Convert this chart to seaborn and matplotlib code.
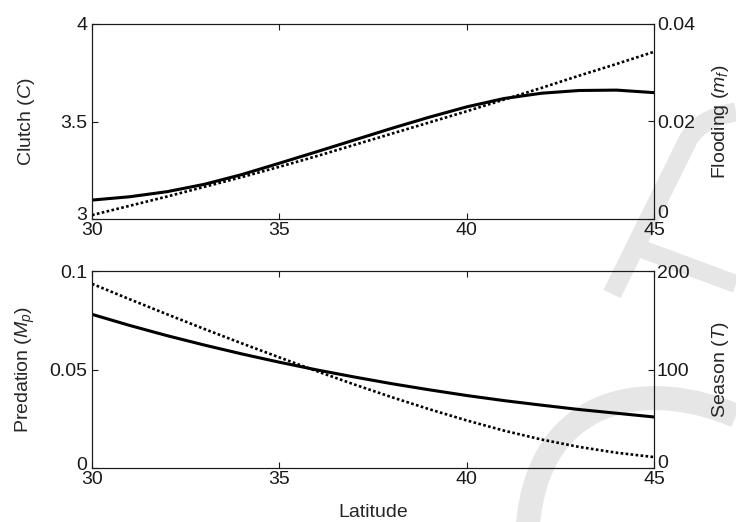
import numpy as np
import pandas as pd
import matplotlib
matplotlib.use("Agg")
import matplotlib.pyplot as plt
from matplotlib.path import Path
from matplotlib.patches import PathPatch
from matplotlib.transforms import ScaledTranslation
import seaborn as sns

# ---- data ----
latitude = [30, 31, 32, 33, 34, 35, 36, 37, 38, 39, 40, 41, 42, 43, 44, 45]
clutch = [3.097, 3.114, 3.140, 3.178, 3.228, 3.286, 3.345, 3.405, 3.465, 3.522,
          3.575, 3.618, 3.645, 3.659, 3.661, 3.648]
flooding = [0.0008, 0.0027, 0.0046, 0.0066, 0.0086, 0.0107, 0.0129, 0.0152,
            0.0175, 0.0198, 0.0221, 0.0245, 0.0269, 0.0294, 0.0318, 0.0343]
predation = [0.0780, 0.0724, 0.0672, 0.0624, 0.0579, 0.0537, 0.0498, 0.0462,
             0.0428, 0.0397, 0.0368, 0.0342, 0.0319, 0.0297, 0.0278, 0.0259]
season = [187, 171.4, 156.1, 141.1, 126.5, 112.3, 98.3, 84.8, 71.9, 59.7,
          48.3, 37.9, 28.9, 21.4, 15.5, 11.1]

x_ticks = [30, 35, 40, 45]
clutch_ticks = [3, 3.5, 4]
clutch_labels = ["3", "3.5", "4"]
flood_ticks = [0, 0.02, 0.04]
flood_labels = ["0", "0.02", "0.04"]
pred_ticks = [0, 0.05, 0.1]
pred_labels = ["0", "0.05", "0.1"]
season_ticks = [0, 100, 200]
season_labels = ["0", "100", "200"]

df = pd.DataFrame({"lat": latitude, "clutch": clutch, "flood": flooding,
                   "pred": predation, "season": season})

sns.set_theme(style="white")
plt.rcParams["font.family"] = ["Liberation Sans", "DejaVu Sans"]
plt.rcParams["mathtext.fontset"] = "custom"
plt.rcParams["mathtext.it"] = "Liberation Sans:italic"
plt.rcParams["mathtext.rm"] = "Liberation Sans"
plt.rcParams["axes.edgecolor"] = "#1a1a1a"
plt.rcParams["axes.linewidth"] = 0.8

W, H = 736, 522
fig = plt.figure(figsize=(W / 100, H / 100), dpi=100)
fig.patch.set_facecolor("white")

# ---- background watermark strokes (figure pixel coords, y from top) ----
def fpx(pts):
    return [(x / W, 1 - y / H) for x, y in pts]

wm = "#e6e6e6"
def add_stroke(pts, lw_px, codes=None):
    verts = fpx(pts)
    if codes is None:
        codes = [Path.MOVETO] + [Path.LINETO] * (len(verts) - 1)
    p = PathPatch(Path(verts, codes), transform=fig.transFigure, fill=False,
                  edgecolor=wm, lw=lw_px * 0.72, capstyle="butt", zorder=-5)
    fig.patches.append(p)

add_stroke([(612, 294), (688, 140), (700, 118), (736, 112)], 19,
           [Path.MOVETO, Path.LINETO, Path.CURVE3, Path.CURVE3])
add_stroke([(628, 244), (736, 284)], 18)
add_stroke([(528, 524), (540, 390), (655, 380), (736, 416)], 24,
           [Path.MOVETO, Path.CURVE4, Path.CURVE4, Path.CURVE4])

# ---- axes ----
left = 92 / W
width = (654 - 92) / W
ax1 = fig.add_axes([left, 1 - 219 / H, width, (219 - 24) / H])
ax3 = fig.add_axes([left, 1 - 468 / H, width, (468 - 271) / H])

FS = 14
solid_kw = dict(color="black", lw=2.2)
dot_kw = dict(color="black", lw=1.9, linestyle=(0, (1.0, 0.9)))

def style(ax, ax2):
    for a in (ax, ax2):
        a.set_facecolor("none")
        a.patch.set_visible(False)
        a.set_xlim(30, 45)
        a.set_xticks(x_ticks)
        a.tick_params(direction="in", length=4, width=0.8, labelsize=FS,
                      colors="#1a1a1a", pad=2)
        a.xaxis.set_ticks_position("both")
        for s in a.spines.values():
            s.set_visible(True)
    ax.tick_params(axis="y", pad=3.5)
    ax.tick_params(axis="x", labelbottom=True, pad=2)
    ax2.tick_params(axis="y", pad=2)

def lift_bottom_label(ax, px):
    lab = ax.get_yticklabels()[0]
    lab.set_transform(lab.get_transform() + ScaledTranslation(0, px / 100, fig.dpi_scale_trans))

# top panel
sns.lineplot(data=df, x="lat", y="clutch", ax=ax1, **solid_kw)
ax2 = ax1.twinx()
sns.lineplot(data=df, x="lat", y="flood", ax=ax2, **dot_kw)
style(ax1, ax2)
ax1.set_ylim(3, 4)
ax1.set_yticks(clutch_ticks, clutch_labels)
ax2.set_ylim(0, 0.04)
ax2.set_yticks(flood_ticks, flood_labels)
ax1.set_xticks(x_ticks, [str(v) for v in x_ticks])
ax1.set_xlabel("")
ax2.set_xlabel("")
ax1.set_ylabel("Clutch ($C$)", fontsize=FS)
ax2.set_ylabel("Flooding ($m_f$)", fontsize=FS)
ax1.yaxis.set_label_coords(-0.097, 0.5)
ax2.yaxis.set_label_coords(1.10, 0.5)

# bottom panel
sns.lineplot(data=df, x="lat", y="pred", ax=ax3, **solid_kw)
ax4 = ax3.twinx()
sns.lineplot(data=df, x="lat", y="season", ax=ax4, **dot_kw)
style(ax3, ax4)
ax3.set_ylim(0, 0.1)
ax3.set_yticks(pred_ticks, pred_labels)
ax4.set_ylim(0, 200)
ax4.set_yticks(season_ticks, season_labels)
ax3.set_xticks(x_ticks, [str(v) for v in x_ticks])
ax4.set_xlabel("")
ax3.set_xlabel("Latitude", fontsize=FS)
ax3.xaxis.set_label_coords(0.5, -0.185)
ax3.set_ylabel("Predation ($M_p$)", fontsize=FS)
ax4.set_ylabel("Season ($T$)", fontsize=FS)
ax3.yaxis.set_label_coords(-0.097, 0.5)
ax4.yaxis.set_label_coords(1.10, 0.5)

for a in (ax1, ax3):
    lift_bottom_label(a, 5)
for a in (ax2, ax4):
    lift_bottom_label(a, 7)

fig.savefig("out.png", dpi=100, facecolor="white")
